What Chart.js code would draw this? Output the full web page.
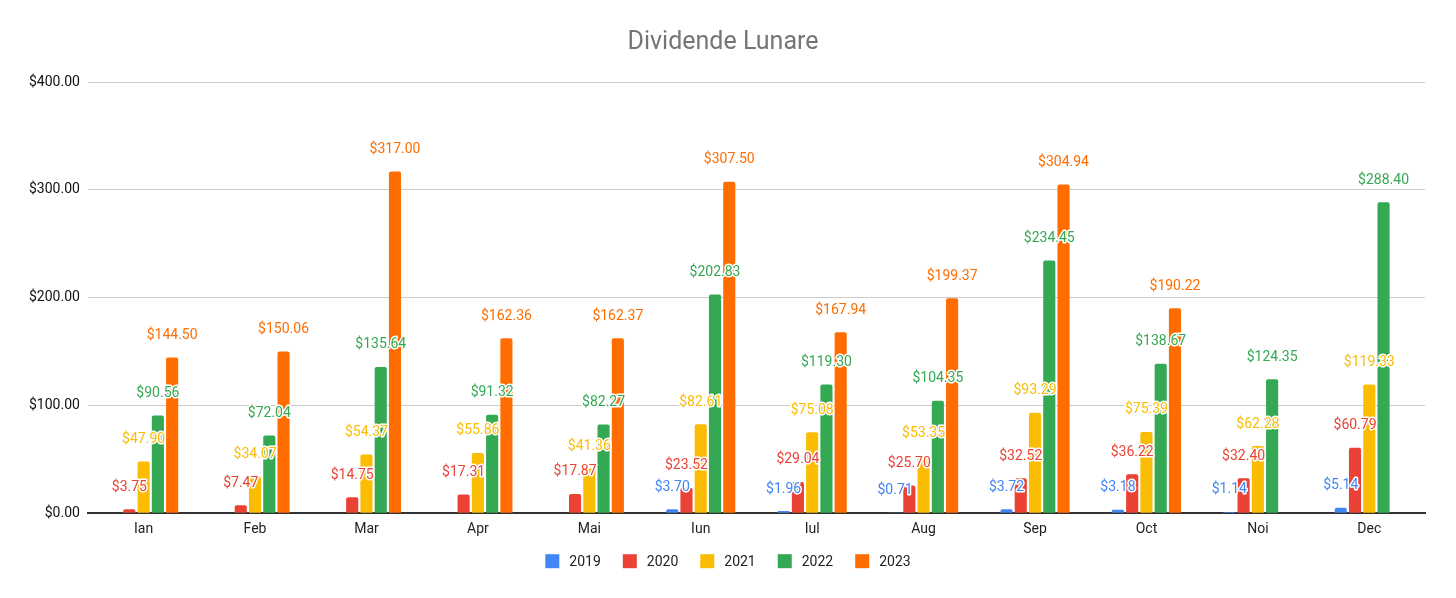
<!DOCTYPE html>
<html>
<head>
<meta charset="utf-8">
<script src="https://cdn.jsdelivr.net/npm/chart.js@4"></script>
<style>
  html, body { margin: 0; padding: 0; background: #fff; }
  #wrap { width: 1456px; height: 598px; }
</style>
</head>
<body>
<div id="wrap"><canvas id="myChart"></canvas></div>
<script>
const months = ["Ian", "Feb", "Mar", "Apr", "Mai", "Iun", "Iul", "Aug", "Sep", "Oct", "Noi", "Dec"];
const years = ["2019", "2020", "2021", "2022", "2023"];

const v2019 = [0, 0, 0, 0, 0, 3.70, 1.96, 0.71, 3.72, 3.18, 1.14, 5.14];
const v2020 = [3.75, 7.47, 14.75, 17.31, 17.87, 23.52, 29.04, 25.70, 32.52, 36.22, 32.40, 60.79];
const v2021 = [47.90, 34.07, 54.37, 55.86, 41.36, 82.61, 75.08, 53.35, 93.29, 75.39, 62.28, 119.33];
const v2022 = [90.56, 72.04, 135.64, 91.32, 82.27, 202.83, 119.30, 104.35, 234.45, 138.67, 124.35, 288.40];
const v2023 = [144.50, 150.06, 317.00, 162.36, 162.37, 307.50, 167.94, 199.37, 304.94, 190.22, null, null];

const yTicks = [0, 100, 200, 300, 400];

const colors = ["#4285F4", "#EA4335", "#FBBC04", "#34A853", "#FF6D01"];
const series = [v2019, v2020, v2021, v2022, v2023];

const money = (v) => "$" + v.toFixed(2);

// value labels above each bar, with a white halo like the original
const barLabels = {
  id: "barLabels",
  afterDatasetsDraw(chart) {
    const ctx = chart.ctx;
    ctx.save();
    ctx.font = "14px Roboto";
    ctx.textAlign = "center";
    ctx.textBaseline = "middle";
    ctx.lineJoin = "round";
    chart.data.datasets.forEach((ds, i) => {
      const meta = chart.getDatasetMeta(i);
      meta.data.forEach((el, j) => {
        const v = ds.data[j];
        if (v == null || v === 0) return;
        const y = el.y - 22;
        ctx.lineWidth = 3;
        ctx.strokeStyle = "#fff";
        ctx.strokeText(money(v), el.x, y);
        ctx.fillStyle = ds.backgroundColor;
        ctx.fillText(money(v), el.x, y);
      });
    });
    ctx.restore();
  },
};

// bottom legend, Google-Sheets style spacing (bigger gaps than the built-in one)
const sheetLegend = {
  id: "sheetLegend",
  afterDraw(chart) {
    const ctx = chart.ctx;
    const box = 14, gap = 10, spacing = 22;
    ctx.save();
    ctx.font = "14px Roboto";
    ctx.textBaseline = "middle";
    ctx.textAlign = "left";
    const items = chart.data.datasets.map((ds) => ({
      text: ds.label,
      color: ds.backgroundColor,
      w: box + gap + ctx.measureText(ds.label).width,
    }));
    const total = items.reduce((s, it) => s + it.w, 0) + spacing * (items.length - 1);
    let x = (chart.width - total) / 2;
    const y = chart.chartArea.bottom + 48;
    items.forEach((it) => {
      ctx.fillStyle = it.color;
      ctx.fillRect(x, y - box / 2, box, box);
      ctx.fillStyle = "#222";
      ctx.fillText(it.text, x + box + gap, y + 1);
      x += it.w + spacing;
    });
    ctx.restore();
  },
};

const data = {
  labels: months,
  datasets: years.map((y, i) => ({
    label: y,
    data: series[i],
    backgroundColor: colors[i],
    borderRadius: { topLeft: 2, topRight: 2 },
    borderSkipped: "bottom",
    categoryPercentage: 0.64,
    barPercentage: 0.85,
  })),
};

const config = {
  type: "bar",
  data: data,
  plugins: [barLabels, sheetLegend],
  options: {
    responsive: true,
    maintainAspectRatio: false,
    animation: false,
    layout: { padding: { left: 21, right: 31, top: 0, bottom: 60 } },
    plugins: {
      title: {
        display: true,
        text: "Dividende Lunare",
        color: "#757575",
        font: { family: "Roboto", size: 25, weight: "normal" },
        padding: { top: 28, bottom: 24 },
      },
      legend: { display: false },
      tooltip: { enabled: false },
    },
    scales: {
      x: {
        grid: { display: false },
        border: { color: "#333", width: 2 },
        ticks: { color: "#222", font: { family: "Roboto", size: 14 }, padding: 0 },
      },
      y: {
        min: 0,
        max: 400,
        afterBuildTicks: (axis) => { axis.ticks = yTicks.map((v) => ({ value: v })); },
        grid: { color: "#cccccc", drawTicks: false },
        border: { display: false },
        ticks: {
          color: "#111",
          font: { family: "Roboto", size: 14 },
          padding: 8,
          callback: (v) => money(v),
        },
      },
    },
  },
};

let myChart = new Chart(document.getElementById("myChart"), config);
</script>
</body>
</html>
